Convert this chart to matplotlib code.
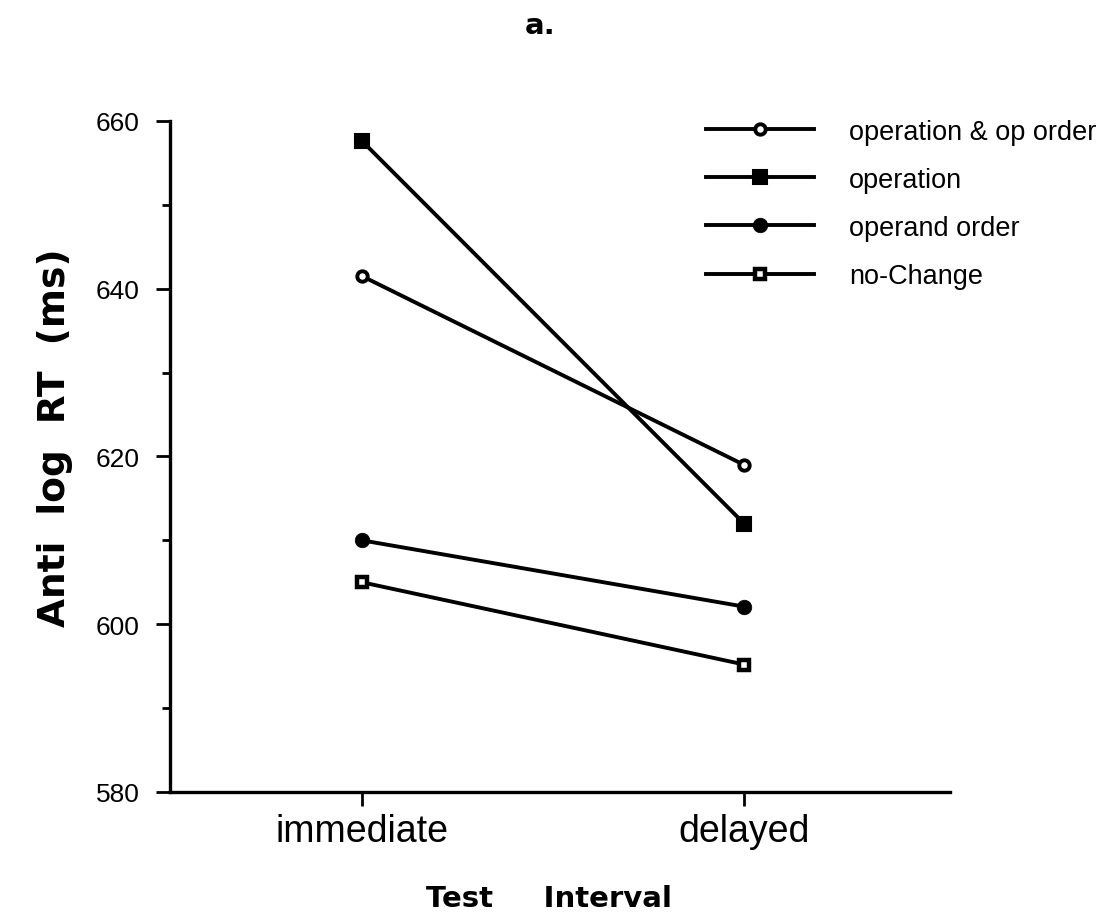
import matplotlib
matplotlib.use("Agg")
import matplotlib.pyplot as plt
from matplotlib.ticker import MultipleLocator
import numpy as np

# ---- data ----
intervals = ["immediate", "delayed"]
series_labels = ["operation & op order", "operation", "operand order", "no-Change"]
op_and_op_order = [641.5, 619.0]
operation = [657.6, 612.0]
operand_order = [610.0, 602.1]
no_change = [605.0, 595.2]
y_ticks = [580, 600, 620, 640, 660]

W, H = 1110, 920
fig = plt.figure(figsize=(W / 100, H / 100), dpi=100)
ax = fig.add_axes([170 / W, 1 - 793 / H, 780 / W, (793 - 122) / H])

x = np.arange(len(intervals))
lw = 2.8
ax.plot(x, op_and_op_order, color="black", lw=lw, marker="o", ms=7.5,
        mfc="white", mec="black", mew=2.8, label=series_labels[0])
ax.plot(x, operation, color="black", lw=lw, marker="s", ms=9.5,
        mfc="black", mec="black", mew=1.5, label=series_labels[1])
ax.plot(x, operand_order, color="black", lw=lw, marker="o", ms=10.5,
        mfc="black", mec="black", mew=0.5, label=series_labels[2])
ax.plot(x, no_change, color="black", lw=lw, marker="s", ms=7.5,
        mfc="white", mec="black", mew=3.2, label=series_labels[3])

ax.set_xlim(-0.503, 1.539)
ax.set_ylim(580, 660)
ax.set_xticks(x)
ax.set_xticklabels(intervals, fontfamily="Liberation Sans", fontsize=27)
ax.set_yticks(y_ticks)
ax.set_yticklabels([str(v) for v in y_ticks], fontfamily="Liberation Sans", fontsize=19)
ax.yaxis.set_minor_locator(MultipleLocator(10))

for s in ["top", "right"]:
    ax.spines[s].set_visible(False)
for s in ["left", "bottom"]:
    ax.spines[s].set_linewidth(2.4)

ax.tick_params(axis="y", which="major", direction="out", length=10, width=2, pad=12)
ax.tick_params(axis="y", which="minor", direction="out", length=5.5, width=2)
ax.tick_params(axis="x", which="major", direction="out", length=10, width=2, pad=5)

leg = ax.legend(loc="upper left", bbox_to_anchor=(692 / W, 1 - 106 / H),
                bbox_transform=fig.transFigure, frameon=False, borderpad=0,
                handlelength=4.0, handletextpad=1.3, labelspacing=0.82,
                prop={"family": "Liberation Sans", "size": 19.5})

fig.text(540 / W, 1 - 34 / H, "a.", ha="center", va="baseline",
         fontfamily="DejaVu Sans", fontsize=21, fontweight="bold")
fig.text(549 / W, 1 - 907 / H, "Test     Interval", ha="center", va="baseline",
         fontfamily="DejaVu Sans", fontsize=21, fontweight="bold")
fig.text(55 / W, 1 - 438 / H, "Anti  log  RT  (ms)", ha="center", va="center",
         rotation=90, fontfamily="DejaVu Sans", fontsize=27, fontweight="bold")

fig.savefig("out.png", dpi=100, facecolor="white")
